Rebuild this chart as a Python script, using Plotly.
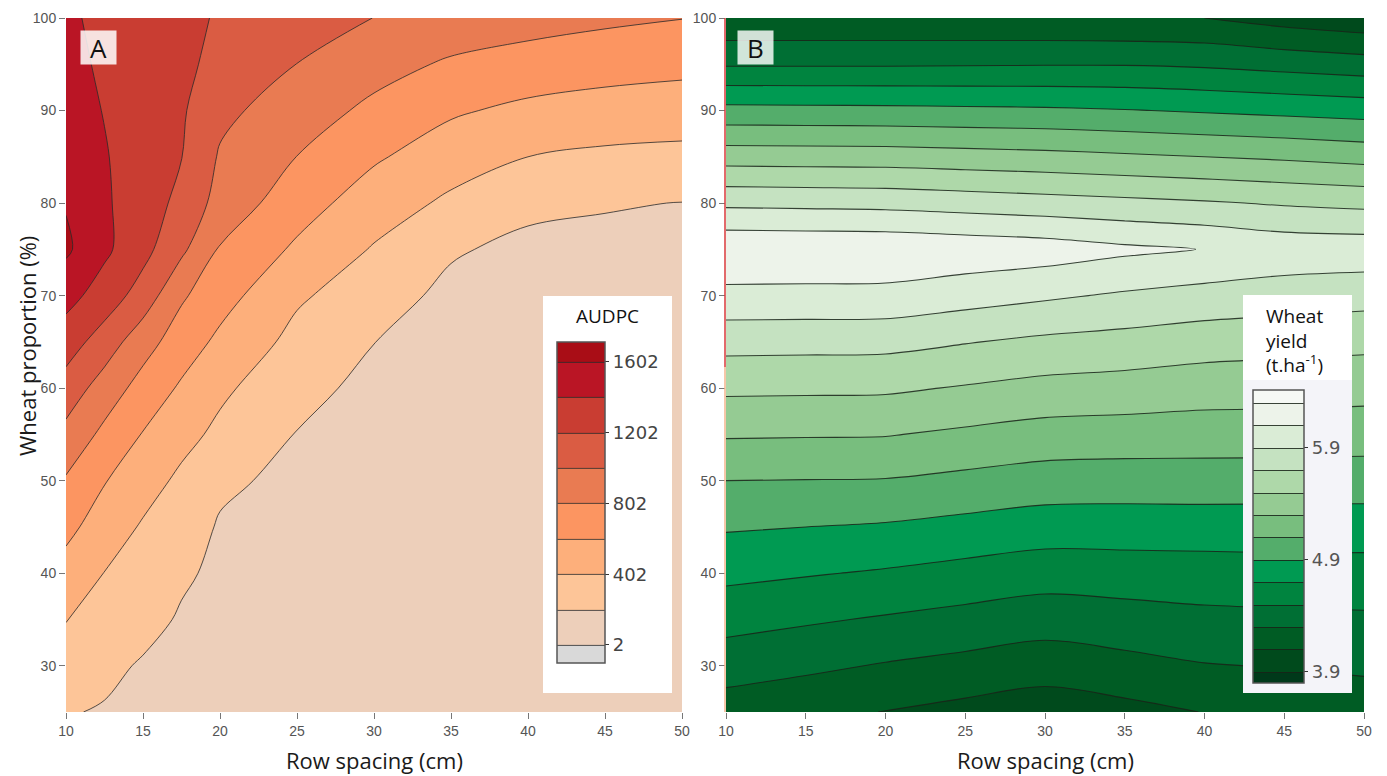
import plotly.graph_objects as go

W, H = 1387, 776

# ---------------- data ----------------
# shared vertical axis: wheat proportion in the mixture (%)
wheat_prop = [25, 30, 35, 40, 45, 50, 55, 60, 65, 70, 75, 80, 85, 90, 95, 100]

# Panel A: AUDPC surface (rows follow wheat_prop, columns follow row_spacing_a)
row_spacing_a = [10, 12.5, 15, 17.5, 20, 25, 30, 35, 40, 45, 50]
audpc = [
    [212, 190, 175, 163, 153, 128, 120, 110, 100, 92, 77],
    [306, 237, 188, 172, 158, 132, 124, 113, 104, 95, 80],
    [409, 327, 249, 187, 165, 138, 129, 117, 108, 98, 84],
    [530, 398, 311, 223, 174, 145, 135, 122, 113, 102, 88],
    [653, 510, 381, 277, 188, 155, 142, 128, 118, 107, 93],
    [782, 612, 485, 362, 230, 165, 148, 132, 122, 112, 99],
    [944, 755, 592, 464, 358, 195, 150, 136, 126, 116, 104],
    [1120, 911, 727, 575, 440, 262, 150, 135, 125, 117, 108],
    [1298, 1110, 882, 702, 560, 343, 204, 140, 126, 118, 112],
    [1471, 1312, 1116, 829, 678, 430, 295, 150, 130, 125, 120],
    [1635, 1440, 1264, 1042, 785, 570, 386, 225, 150, 160, 160],
    [1590, 1427, 1302, 1149, 929, 687, 503, 365, 253, 214, 199],
    [1520, 1415, 1310, 1206, 982, 800, 627, 495, 402, 366, 350],
    [1480, 1395, 1310, 1226, 1050, 900, 757, 628, 556, 517, 502],
    [1450, 1377, 1306, 1236, 1159, 1000, 876, 775, 725, 685, 654],
    [1430, 1362, 1302, 1242, 1187, 1092, 1000, 930, 877, 838, 806],
]
audpc_ticks = [2, 402, 802, 1202, 1602]

# Panel B: wheat yield surface (t/ha)
row_spacing_b = [10, 15, 20, 25, 30, 35, 40, 45, 50]
wheat_yield = [
    [4.20, 4.15, 4.095, 4.04, 3.99, 4.04, 4.105, 4.17, 4.20],
    [4.39, 4.34, 4.285, 4.24, 4.19, 4.24, 4.29, 4.31, 4.33],
    [4.57, 4.525, 4.48, 4.435, 4.39, 4.42, 4.45, 4.46, 4.47],
    [4.75, 4.715, 4.68, 4.635, 4.59, 4.60, 4.61, 4.62, 4.62],
    [4.92, 4.90, 4.88, 4.84, 4.80, 4.80, 4.80, 4.80, 4.80],
    [5.10, 5.095, 5.09, 5.05, 5.01, 5.00, 5.005, 5.00, 5.00],
    [5.32, 5.315, 5.31, 5.265, 5.22, 5.21, 5.20, 5.20, 5.19],
    [5.54, 5.535, 5.53, 5.485, 5.44, 5.42, 5.39, 5.38, 5.37],
    [5.77, 5.765, 5.76, 5.71, 5.66, 5.63, 5.59, 5.57, 5.55],
    [6.046, 6.043, 6.04, 5.985, 5.93, 5.875, 5.83, 5.80, 5.775],
    [6.27, 6.265, 6.26, 6.23, 6.20, 6.14, 6.095, 6.03, 6.02],
    [5.86, 5.85, 5.84, 5.81, 5.78, 5.75, 5.72, 5.68, 5.65],
    [5.41, 5.405, 5.40, 5.38, 5.36, 5.33, 5.30, 5.27, 5.23],
    [4.96, 4.955, 4.95, 4.94, 4.93, 4.91, 4.88, 4.85, 4.82],
    [4.48, 4.48, 4.48, 4.485, 4.49, 4.49, 4.47, 4.43, 4.39],
    [4.13, 4.13, 4.13, 4.125, 4.12, 4.11, 4.10, 4.02, 3.96],
]
yield_ticks = [3.9, 4.9, 5.9]

x_ticks = [10, 15, 20, 25, 30, 35, 40, 45, 50]
y_ticks = [30, 40, 50, 60, 70, 80, 90, 100]

# ---------------- styling ----------------
audpc_colors = ["#D9D9D9", "#EDCFBA", "#FDC598", "#FDAF7B", "#FC9561",
                "#E97B52", "#DA5C43", "#C93D32", "#BA1525", "#A90D16"]
yield_colors = ["#00391A", "#004A1C", "#005C24", "#006F34", "#00843F",
                "#009A52", "#54AD6B", "#78BE7E", "#95CB93", "#AED8A9",
                "#C5E2C1", "#DAECD6", "#EDF3EA", "#F6F9F5"]


def stepped(colors):
    n = len(colors) - 1
    return [[k / n, c] for k, c in enumerate(colors)]


def px(x):
    return x / W


def py(y):
    return 1 - y / H


tick_font = dict(family="Liberation Sans Narrow, Liberation Sans, Arial", size=14, color="#555555")
cb_font = dict(family="DejaVu Sans, Verdana", size=18, color="#444444")
title_font = dict(family="Open Sans, Lato, sans-serif", size=22, color="#1a1a1a")
label_font = dict(family="Open Sans, Lato, sans-serif", size=19, color="#111111")

fig = go.Figure()

fig.add_trace(go.Contour(
    x=row_spacing_a, y=wheat_prop, z=audpc,
    xaxis="x", yaxis="y",
    autocontour=False,
    contours=dict(start=2, end=1602, size=200, coloring="fill", showlines=True),
    colorscale=stepped(audpc_colors),
    zmin=-100, zmax=1715,
    line=dict(color="#2a2a2a", width=0.8, smoothing=1.0),
    hoverinfo="skip",
    colorbar=dict(
        x=px(557), xanchor="left", y=py(342), yanchor="top",
        len=321, lenmode="pixels", thickness=48, thicknessmode="pixels",
        xpad=0, ypad=0, outlinewidth=1.5, outlinecolor="#555555",
        bgcolor="rgba(0,0,0,0)", borderwidth=0,
        tickmode="array", tickvals=audpc_ticks,
        ticks="outside", ticklen=4, tickwidth=1.2, tickcolor="#333333",
        tickfont=cb_font,
    ),
))

fig.add_trace(go.Contour(
    x=row_spacing_b, y=wheat_prop, z=wheat_yield,
    xaxis="x2", yaxis="y2",
    autocontour=False,
    contours=dict(start=3.9, end=6.3, size=0.2, coloring="fill", showlines=True),
    colorscale=stepped(yield_colors),
    zmin=3.81, zmax=6.415,
    line=dict(color="rgba(25,35,25,0.85)", width=1.1, smoothing=1.0),
    hoverinfo="skip",
    colorbar=dict(
        x=px(1253), xanchor="left", y=py(390), yanchor="top",
        len=293, lenmode="pixels", thickness=51, thicknessmode="pixels",
        xpad=0, ypad=0, outlinewidth=1.5, outlinecolor="#555555",
        bgcolor="rgba(0,0,0,0)", borderwidth=0,
        tickmode="array", tickvals=yield_ticks, ticktext=["3.9", "4.9", "5.9"],
        ticks="outside", ticklen=4, tickwidth=1.2, tickcolor="#333333",
        tickfont=dict(family="DejaVu Sans, Verdana", size=18, color="#555555"),
    ),
))

x_common = dict(range=[10, 50], tickmode="array", tickvals=x_ticks, ticks="outside",
                ticklen=6, tickwidth=1, tickcolor="#777777", tickfont=tick_font,
                showgrid=False, zeroline=False, showline=False, fixedrange=True,
                automargin=False)
y_common = dict(range=[25, 100], tickmode="array", tickvals=y_ticks, ticks="outside",
                ticklen=6, tickwidth=1, tickcolor="#777777", tickfont=tick_font,
                showgrid=False, zeroline=False, showline=False, fixedrange=True,
                automargin=False, domain=[py(712), py(18)])

shapes = [
    # legend panels behind the colour bars
    dict(type="rect", xref="paper", yref="paper", x0=px(543), x1=px(672),
         y0=py(693), y1=py(296), fillcolor="white", line=dict(width=0), layer="above"),
    dict(type="rect", xref="paper", yref="paper", x0=px(1243), x1=px(1352),
         y0=py(380), y1=py(295), fillcolor="white", line=dict(width=0), layer="above"),
    dict(type="rect", xref="paper", yref="paper", x0=px(1243), x1=px(1352),
         y0=py(693), y1=py(380), fillcolor="#F4F4F9", line=dict(width=0), layer="above"),
    # coloured edge along the left side of panel B
    dict(type="line", xref="paper", yref="paper", x0=px(725), x1=px(725),
         y0=py(18), y1=py(367), line=dict(color="#D9393A", width=1.5), layer="above"),
    dict(type="line", xref="paper", yref="paper", x0=px(725), x1=px(725),
         y0=py(367), y1=py(712), line=dict(color="#F3B48C", width=1.5), layer="above"),
]

annotations = [
    dict(text="A", xref="paper", yref="paper", x=px(98.5), y=py(47.5),
         xanchor="center", yanchor="middle", showarrow=False, width=33, height=31,
         bgcolor="rgba(255,255,255,0.85)", font=dict(family="Open Sans, Lato", size=26, color="#111111")),
    dict(text="B", xref="paper", yref="paper", x=px(755.5), y=py(47.5),
         xanchor="center", yanchor="middle", showarrow=False, width=33, height=31,
         bgcolor="rgba(255,255,255,0.82)", font=dict(family="Open Sans, Lato", size=26, color="#111111")),
    dict(text="AUDPC", xref="paper", yref="paper", x=px(607), y=py(316),
         xanchor="center", yanchor="middle", showarrow=False, font=label_font),
    dict(text="Wheat<br>yield<br>(t.ha<sup>-1</sup>)", xref="paper", yref="paper",
         x=px(1264), y=py(340), xanchor="left", yanchor="middle", align="left",
         showarrow=False, font=label_font),
    dict(text="Row spacing (cm)", xref="paper", yref="paper", x=px(374), y=py(760),
         xanchor="center", yanchor="middle", showarrow=False, font=title_font),
    dict(text="Row spacing (cm)", xref="paper", yref="paper", x=px(1045), y=py(760),
         xanchor="center", yanchor="middle", showarrow=False, font=title_font),
    dict(text="Wheat proportion (%)", xref="paper", yref="paper", x=px(27), y=py(346),
         xanchor="center", yanchor="middle", textangle=-90, showarrow=False, font=title_font),
]

fig.update_layout(
    width=W, height=H,
    margin=dict(l=0, r=0, t=0, b=0),
    paper_bgcolor="white", plot_bgcolor="white",
    showlegend=False,
    xaxis=dict(domain=[px(66), px(682)], anchor="y", **x_common),
    yaxis=dict(anchor="x", **y_common),
    xaxis2=dict(domain=[px(726), px(1364)], anchor="y2", **x_common),
    yaxis2=dict(anchor="x2", **y_common),
    shapes=shapes,
    annotations=annotations,
)

fig.write_html("out.html")
